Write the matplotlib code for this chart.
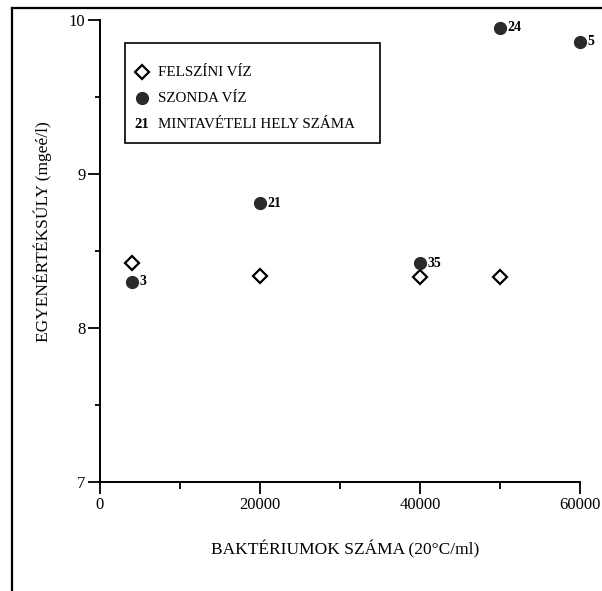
import matplotlib.pyplot as plt
from matplotlib.lines import Line2D
from matplotlib.patches import Rectangle
from matplotlib.ticker import MultipleLocator

plt.rcParams['font.family'] = ['Liberation Serif', 'DejaVu Serif']

# felszíni víz (surface water)
surface_x = [4000, 20000, 40000, 50000]
surface_y = [8.42, 8.34, 8.33, 8.33]

# szonda víz (probe water) with sampling site numbers
probe_x = [4000, 20000, 40000, 50000, 60000]
probe_y = [8.30, 8.81, 8.42, 9.95, 9.86]
probe_sites = ['3', '21', '35', '24', '5']

x_ticks = [0, 20000, 40000, 60000]
y_ticks = [7, 8, 9, 10]

legend_labels = ['FELSZÍNI VÍZ', 'SZONDA VÍZ', 'MINTAVÉTELI HELY SZÁMA']

W, H = 602, 591
fig = plt.figure(figsize=(W / 100, H / 100), dpi=100)
ax = fig.add_axes([100 / W, 1 - 482 / H, 480 / W, 462 / H])

ax.plot(surface_x, surface_y, 'D', ms=7.5, mfc='white', mec='black', mew=1.6,
        clip_on=False, zorder=3)
ax.plot(probe_x, probe_y, 'o', ms=8.5, color='#2a2a2a', clip_on=False, zorder=4)
for x, y, s in zip(probe_x, probe_y, probe_sites):
    ax.annotate(s, (x, y), xytext=(5.5, 0), textcoords='offset points',
                ha='left', va='center', fontsize=10, fontweight='bold',
                annotation_clip=False)

ax.set_xlim(0, 60000)
ax.set_ylim(7, 10)
ax.set_xticks(x_ticks)
ax.set_yticks(y_ticks)
ax.xaxis.set_minor_locator(MultipleLocator(10000))
ax.yaxis.set_minor_locator(MultipleLocator(0.5))
ax.tick_params(axis='both', which='major', direction='out', length=8.5,
               width=1.3, labelsize=12, pad=2)
ax.tick_params(axis='x', which='minor', direction='out', length=5, width=1.3)
ax.tick_params(axis='y', which='minor', direction='out', length=3.5, width=1.3)

for side in ['top', 'right']:
    ax.spines[side].set_visible(False)
for side in ['left', 'bottom']:
    ax.spines[side].set_linewidth(1.4)

ax.set_xlabel('BAKTÉRIUMOK SZÁMA (20°C/ml)', fontsize=12.5)
ax.xaxis.set_label_coords(0.51, (482 - 540) / 462)
ax.set_ylabel('EGYENÉRTÉKSÚLY (mgeé/l)', fontsize=12.5)
ax.yaxis.set_label_coords((52 - 100) / 480, (482 - 232) / 462)

# legend box drawn in axes coordinates
ax.add_patch(Rectangle((0.052, 0.734), 0.531, 0.216, transform=ax.transAxes,
                       fill=False, lw=1.2, ec='black', clip_on=False))
ax.plot([0.0875], [0.887], 'D', ms=7.5, mfc='white', mec='black', mew=1.6,
        transform=ax.transAxes, clip_on=False)
ax.plot([0.0875], [0.831], 'o', ms=8.5, color='#2a2a2a',
        transform=ax.transAxes, clip_on=False)
ax.text(0.0875, 0.773, '21', transform=ax.transAxes, ha='center', va='center',
        fontsize=10.5, fontweight='bold')
for yy, lab in zip([0.887, 0.831, 0.773], legend_labels):
    ax.text(0.12, yy, lab, transform=ax.transAxes, ha='left', va='center',
            fontsize=10.8)

# outer frame (left and top edges)
fig.add_artist(Line2D([12 / W, 12 / W], [0, 1 - 8 / H], color='black', lw=1.6))
fig.add_artist(Line2D([12 / W, 1], [1 - 8 / H, 1 - 8 / H], color='black', lw=1.6))

fig.savefig('out.png', dpi=100)
